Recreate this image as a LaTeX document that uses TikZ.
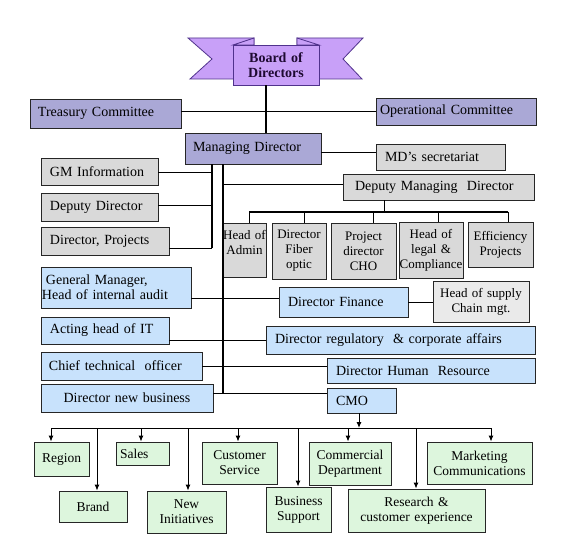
\documentclass[tikz,border=0pt]{standalone}
\usepackage{fontspec}
\setmainfont{Liberation Serif}
\usetikzlibrary{arrows.meta}
\definecolor{lav}{RGB}{170,168,214}
\definecolor{vio}{RGB}{200,160,248}
\definecolor{viodk}{RGB}{80,50,140}
\definecolor{gry}{RGB}{217,217,217}
\definecolor{gryl}{RGB}{234,234,234}
\definecolor{blu}{RGB}{200,226,252}
\definecolor{grn}{RGB}{221,246,221}
\definecolor{bdtext}{RGB}{30,10,50}
\newcommand\bx[8]{%
 \pgfmathsetmacro\bxw{#5-#3-2*#7}%
 \pgfmathsetmacro\bxh{#6-#4}%
 \pgfmathsetmacro\bxcx{(#3+#5)/2}%
 \pgfmathsetmacro\bxcy{(#4+#6)/2}%
 \node[#2, inner xsep=#7bp, inner ysep=0pt, minimum height=\bxh bp, text width=\bxw bp] (#1) at (\bxcx,\bxcy) {#8};}
\tikzset{
 bxs/.style={draw=black!85, line width=0.8bp, rectangle, font=\fontsize{14bp}{15bp}\selectfont},
 lavbox/.style={bxs, fill=lav},
 grybox/.style={bxs, fill=gry},
 hscbox/.style={bxs, fill=gryl},
 blubox/.style={bxs, fill=blu},
 grnbox/.style={bxs, fill=grn, font=\fontsize{13.5bp}{15bp}\selectfont},
 bodbox/.style={draw=viodk, line width=0.8bp, fill=vio, text=bdtext, font=\fontsize{14bp}{15bp}\selectfont\bfseries},
 sm/.style={font=\fontsize{13bp}{15bp}\selectfont},
 al/.style={align=left},
 ac/.style={align=center},
 conn/.style={draw=black, line width=1bp},
 thk/.style={draw=black, line width=2bp},
 arr/.style={conn, -{Latex[length=6bp,width=5bp]}}
}
\begin{document}
\begin{tikzpicture}[x=1bp, y=-1bp]
\fill[white] (0,0) rectangle (569,546);
\useasboundingbox (0,0) rectangle (569,546);
% ribbon
\filldraw[fill=vio, draw=viodk, line width=0.8bp] (188,38) -- (254,38) -- (254,79) -- (190,79) -- (212,59) -- cycle;
\filldraw[fill=vio, draw=viodk, line width=0.8bp] (363,38) -- (297,38) -- (297,79) -- (362,79) -- (343,59) -- cycle;
\filldraw[fill=vio, draw=viodk, line width=0.8bp] (233,45) -- (254,38) -- (254,45) -- cycle;
\filldraw[fill=vio, draw=viodk, line width=0.8bp] (319,45) -- (297,38) -- (297,45) -- cycle;
\bx{bod}{bodbox,ac}{233}{45}{319}{85}{2}{Board of\\Directors}
% lavender
\bx{tc}{lavbox,al}{30}{99}{181}{128}{8}{Treasury Committee}
\bx{oc}{lavbox,al}{376}{98}{536}{125}{4}{Operational Committee}
\bx{md}{lavbox,al}{185}{133}{321}{164}{8}{Managing Director}
% grey
\bx{mds}{grybox,al}{376}{144}{505}{170}{9}{MD’s secretariat}
\bx{gmi}{grybox,al}{41}{158}{158}{185}{9}{GM Information}
\bx{dd}{grybox,al}{41}{193}{158}{221}{9}{Deputy Director}
\bx{dp}{grybox,al}{41}{227}{169}{255}{9}{Director, Projects}
\bx{dmd}{grybox,al}{343}{174}{534}{200}{12}{Deputy Managing~~Director}
\bx{had}{grybox,sm,ac}{223}{223}{266}{277}{0}{Head of\\Admin\\\mbox{}}
\bx{dfo}{grybox,sm,ac}{272}{223}{326}{279}{2}{Director\\Fiber\\optic}
\bx{pdc}{grybox,sm,ac}{331}{223}{396}{279}{2}{Project\\director\\CHO}
\bx{hlc}{grybox,sm,ac}{399}{222}{463}{278}{0}{Head of\\legal \&\\Compliance}
\bx{ep}{grybox,sm,ac}{468}{222}{533}{267}{2}{Efficiency\\Projects}
\bx{hsc}{hscbox,sm,ac}{433}{281}{529}{322}{2}{Head of supply\\Chain mgt.}
% blue
\bx{gm}{blubox,al}{41}{267}{191}{308}{1}{\hspace*{4bp}General Manager,\\Head of internal audit}
\bx{df}{blubox,al}{279}{287}{408}{317}{9}{Director Finance}
\bx{ait}{blubox,al}{41}{317}{169}{344}{9}{Acting head of IT}
\bx{drc}{blubox,al}{266}{326}{535}{354}{9}{Director regulatory~~\& corporate affairs}
\bx{cto}{blubox,al}{41}{352}{202}{380}{8}{Chief technical~~officer}
\bx{dhr}{blubox,al}{327}{358}{535}{383}{9}{Director Human~~Resource}
\bx{dnb}{blubox,ac}{41}{384}{213}{412}{4}{Director new business}
\bx{cmo}{blubox,al}{327}{388}{396}{413}{9}{CMO}
% green
\bx{rg}{grnbox,ac}{34}{442}{89}{476}{2}{Region}
\bx{sl}{grnbox,al}{116}{442}{169}{465}{4}{Sales}
\bx{cs}{grnbox,ac}{202}{442}{277}{484}{2}{Customer\\Service}
\bx{cd}{grnbox,ac}{309}{442}{391}{485}{2}{Commercial\\Department}
\bx{mc}{grnbox,ac}{427}{442}{532}{484}{2}{Marketing\\Communications}
\bx{br}{grnbox,ac}{59}{491}{127}{522}{2}{Brand}
\bx{ni}{grnbox,ac}{147}{491}{226}{533}{2}{New\\Initiatives}
\bx{bs}{grnbox,ac}{266}{487}{331}{532}{2}{Business\\Support}
\bx{rce}{grnbox,ac}{348}{489}{485}{532}{2}{Research \&\\customer experience}
% connectors
\draw[thk] ([xshift=-10bp]bod.south) -- ([xshift=-10bp]bod.south |- md.north);
\draw[conn] ([yshift=1.5bp]tc.east) -- ([yshift=1.5bp]tc.east -| oc.west);
\draw[conn] ([yshift=-4.5bp]md.east) -- ([yshift=-4.5bp]md.east -| mds.west);
\coordinate (lb) at (212,248);
\draw[thk] (md.south -| lb) -- (lb);
\draw[conn] (lb) -- (lb -| dp.east);
\draw[conn] ([yshift=-1.5bp]gmi.east) -- ([yshift=-1.5bp]gmi.east -| lb);
\draw[conn] ([yshift=1bp]dd.east) -- ([yshift=1bp]dd.east -| lb);
\coordinate (mb) at (223,393);
\draw[thk] (md.south -| mb) -- (mb);
\draw[conn] ([yshift=2bp]dmd.west -| mb) -- ([yshift=2bp]dmd.west);
\coordinate (db) at (384,212);
\draw[conn] (dmd.south -| db) -- (db);
\draw[conn] ([xshift=4.5bp]had.north |- db) -- ([xshift=7.5bp]ep.north |- db);
\foreach \n/\s in {had/4.5, dfo/5, pdc/9.5, hlc/7, ep/7.5}
  \draw[conn] ([xshift=\s bp]\n.north |- db) -- ([xshift=\s bp]\n.north);
\draw[conn] ([yshift=-10.5bp]gm.east) -- ([yshift=-10.5bp]gm.east -| df.west);
\draw[conn] (df.east) -- (df.east -| hsc.west);
\draw[conn] (ait.east |- drc.west) -- (drc.west);
\draw[conn] (cto.east) -- (cto.east -| dhr.west);
\draw[conn] (dnb.east |- mb) -- (cmo.west |- mb);
\coordinate (bb) at (0,428);
\draw[arr] ([xshift=-2.5bp]cmo.south) -- ([xshift=-2.5bp]cmo.south |- bb);
\draw[conn] ([xshift=-10.5bp]rg.north |- bb) -- ([xshift=11.5bp]mc.north |- bb);
\foreach \n/\s in {rg/-10.5, sl/-1.5, cs/-1.5, cd/-2, mc/11.5, br/4, ni/1.5, bs/-0.5, rce/-0.5}
  \draw[arr] ([xshift=\s bp]\n.north |- bb) -- ([xshift=\s bp]\n.north);
\end{tikzpicture}
\end{document}
